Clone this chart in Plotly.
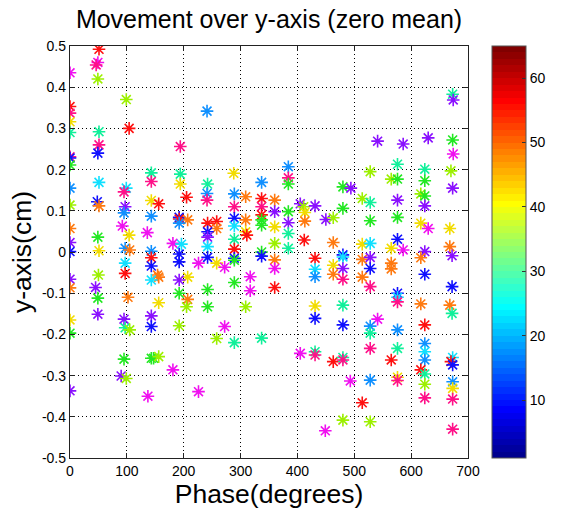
import plotly.graph_objects as go

# ---------------- data ----------------
# phase (degrees) per point, grouped by column
phase_deg = (
    [0] * 18
    + [51, 49, 46, 49, 51, 51, 49, 51, 48, 51, 49, 51, 50, 45, 49, 49]
    + [99, 104, 99, 95, 97, 95, 92, 104, 97, 105, 97, 97, 102, 95, 97, 105, 95, 90, 99]
    + [143, 143, 143, 156, 143, 136, 143, 143, 143, 156, 154, 143, 156, 143, 143, 143, 147, 156, 137]
    + [194, 194, 194, 205, 192, 192, 207, 192, 181, 196, 192, 192, 207, 192, 192, 207, 205, 192, 181]
    + [241, 242, 241, 241, 242, 258, 258, 242, 242, 242, 242, 226, 258, 272, 242, 242, 272, 258, 226]
    + [288, 289, 309, 289, 289, 309, 289, 309, 311, 289, 289, 289, 289, 317, 289, 317, 309, 289]
    + [337, 337, 360, 337, 360, 337, 337, 337, 360, 360, 337, 337, 360, 360, 360, 337]
    + [384] * 7
    + [405, 411, 431, 413, 413, 450, 463, 412, 463, 431, 431, 431, 463, 463, 431, 431, 405, 431, 431, 463, 449]
    + [480, 494, 480, 480, 480, 480, 480, 480, 480, 480, 480, 493, 480]
    + [541, 528, 514, 528, 528, 514, 528, 514, 528, 528, 514, 528, 541, 528, 528, 528, 528, 514, 528]
    + [586, 576, 565, 576, 576, 576, 576, 565, 586, 565, 565, 576, 576, 576, 576, 576, 565, 576, 576]
    + [630, 624, 624, 617, 624, 624, 617, 630, 624, 617, 624, 617, 624, 624, 624, 624, 617, 624, 624, 624]
    + [673, 674, 673, 674, 670, 673, 668, 668, 672, 672, 668, 672, 673, 670, 673, 673, 673, 673, 673]
)

# y displacement (cm), same order
y_cm = (
    [0.435, 0.353, 0.337, 0.316, 0.29, 0.231, 0.228, 0.211, 0.155, 0.114, 0.057, 0.023, 0.001, -0.066, -0.087, -0.165, -0.197, -0.337]
    + [0.492, 0.46, 0.454, 0.42, 0.292, 0.26, 0.24, 0.169, 0.122, 0.112, 0.036, 0.003, -0.056, -0.086, -0.112, -0.151]
    + [0.37, 0.30, 0.155, 0.146, 0.11, 0.095, 0.063, 0.041, 0.009, 0.005, -0.027, -0.052, -0.11, -0.163, -0.184, -0.189, -0.26, -0.301, -0.307]
    + [0.192, 0.171, 0.125, 0.117, 0.087, 0.047, 0.002, -0.014, -0.034, -0.061, -0.056, -0.068, -0.123, -0.155, -0.181, -0.258, -0.258, -0.254, -0.35]
    + [0.256, 0.189, 0.165, 0.133, 0.084, 0.08, 0.078, 0.07, 0.021, 0.019, -0.005, -0.024, -0.061, -0.068, -0.1, -0.115, -0.133, -0.179, -0.286]
    + [0.342, 0.165, 0.142, 0.126, 0.07, 0.074, 0.057, 0.049, 0.036, 0.013, -0.013, -0.027, -0.027, -0.037, -0.091, -0.133, -0.181, -0.21, -0.339]
    + [0.191, 0.141, 0.134, 0.11, 0.082, 0.078, 0.063, 0.049, 0.041, 0.031, 0.007, -0.015, -0.02, -0.06, -0.074, -0.094, -0.133, -0.22]
    + [0.169, 0.13, 0.126, 0.11, 0.098, 0.09, 0.078, 0.065, 0.061, 0.021, 0.0, -0.01, -0.019, -0.04, -0.086, -0.209]
    + [0.207, 0.18, 0.165, 0.098, 0.071, 0.045, 0.009]
    + [0.117, 0.11, 0.112, 0.096, 0.075, 0.079, 0.083, 0.029, 0.023, -0.015, -0.042, -0.06, -0.032, -0.054, -0.131, -0.161, -0.246, -0.242, -0.25, -0.266, -0.434]
    + [0.158, 0.155, 0.106, -0.007, -0.012, -0.04, -0.066, -0.129, -0.177, -0.256, -0.262, -0.313, -0.408]
    + [0.269, 0.195, 0.13, 0.12, 0.076, 0.019, 0.021, -0.018, -0.013, -0.04, -0.061, -0.084, -0.163, -0.18, -0.197, -0.234, -0.311, -0.366, -0.412]
    + [0.262, 0.213, 0.177, 0.177, 0.126, 0.084, 0.031, 0.009, 0.005, -0.027, -0.041, -0.1, -0.11, -0.121, -0.189, -0.234, -0.262, -0.304, -0.312]
    + [0.277, 0.201, 0.173, 0.141, 0.136, 0.112, 0.07, 0.057, 0.001, -0.014, -0.054, -0.126, -0.177, -0.222, -0.242, -0.262, -0.286, -0.296, -0.321, -0.354]
    + [0.383, 0.369, 0.272, 0.238, 0.197, 0.155, 0.057, 0.013, -0.009, -0.084, -0.129, -0.149, -0.256, -0.266, -0.274, -0.315, -0.331, -0.357, -0.43]
)

# hue key per point, same order
hue = (
    "MRPYSPBGACOVBVOYGV"
    + "RMPCSPBKBOGYCVGV"
    + "CRKPVAMYAOKROVSCGVC"
    + "SPYRAMARBOOKYVBGGCM"
    + "PSYRBROAMKBBYVGOCCM"
    + "ASAPRROBVKBMYMGGMCM"
    + "YAOPBOKYRSRBGMGMCS"
    + "AROPVRGGYCGBOMRS"
    + "APGGVSS"
    + "VCVYOVCRORKAYOYBMSPRM"
    + "GVGBKVPSBSPMC"
    + "VCCSGYKOVBOPMASPARC"
    + "VSCGVGBYMOOBKPASRYP"
    + "VSGCGVYMVOBORAKARSCP"
    + "SVGMCVYOVBOSKRBAYPP"
)

x_ticks = [0, 100, 200, 300, 400, 500, 600, 700]
y_ticks = [-0.5, -0.4, -0.3, -0.2, -0.1, 0, 0.1, 0.2, 0.3, 0.4, 0.5]
y_ticktext = ["-0.5", "-0.4", "-0.3", "-0.2", "-0.1", "0", "0.1", "0.2", "0.3", "0.4", "0.5"]
cbar_ticks = [10, 20, 30, 40, 50, 60]
cbar_range = [1, 65]

# ---------------- styling ----------------
palette = {
    "R": "#ff1010", "O": "#ff7a10", "Y": "#f2dc00", "C": "#9cf000",
    "G": "#22e822", "S": "#10f09a", "K": "#10e0ff", "A": "#1090ff",
    "B": "#1010ff", "V": "#8a10ff", "M": "#f010f0", "P": "#ff1088",
}
assert len(phase_deg) == len(y_cm) == len(hue)
colors = [palette[h] for h in hue]


def jet_scale(m=64):
    n = -(-m // 4)
    u = [i / n for i in range(1, n + 1)] + [1.0] * (n - 1) + [i / n for i in range(n, 0, -1)]
    g0 = -(-n // 2) - (1 if m % 4 == 1 else 0)
    rgb = [[0.0, 0.0, 0.0] for _ in range(m)]
    for k, uk in enumerate(u):
        g = g0 + k + 1
        r = g + n
        b = g - n
        if 1 <= r <= m:
            rgb[r - 1][0] = uk
        if 1 <= g <= m:
            rgb[g - 1][1] = uk
        if 1 <= b <= m:
            rgb[b - 1][2] = uk
    scale = []
    for i, (r, g, b) in enumerate(rgb):
        c = "rgb(%d,%d,%d)" % (round(r * 255), round(g * 255), round(b * 255))
        scale.append([i / m, c])
        scale.append([(i + 1) / m, c])
    return scale


FONT = "Liberation Sans, Arial, sans-serif"

fig = go.Figure()
fig.add_trace(go.Scatter(
    x=phase_deg, y=y_cm, mode="markers",
    marker=dict(symbol="asterisk-open", size=10.5, color=colors,
                line=dict(width=1.6)),
    showlegend=False, hoverinfo="x+y",
))
fig.add_trace(go.Scatter(
    x=[None], y=[None], mode="markers",
    marker=dict(color=[cbar_range[0]], colorscale=jet_scale(64),
                cmin=cbar_range[0], cmax=cbar_range[1], showscale=True,
                colorbar=dict(
                    x=(507 - 70) / 412, xanchor="left", xref="paper",
                    y=0.5, yanchor="middle", len=1.0, lenmode="fraction",
                    thickness=34, thicknessmode="pixels",
                    xpad=0, ypad=0,
                    outlinecolor="#555555", outlinewidth=1,
                    tickvals=cbar_ticks, ticks="inside", ticklen=4,
                    tickcolor="#333333",
                    tickfont=dict(family=FONT, size=14, color="black"),
                )),
    showlegend=False, hoverinfo="skip",
))

axis_common = dict(
    showgrid=True, griddash="1px,3px", gridcolor="black", gridwidth=1,
    showline=True, linecolor="#222222", linewidth=1.3, mirror="ticks",
    ticks="inside", ticklen=5, tickcolor="#222222", zeroline=False,
    tickfont=dict(family=FONT, size=14, color="black"),
)

fig.update_layout(
    width=563, height=513,
    margin=dict(l=70, r=81, t=46, b=55),
    paper_bgcolor="white", plot_bgcolor="white",
    title=dict(text="Movement over y-axis (zero mean)", x=0.5, xref="paper",
               xanchor="center", y=1 - 19 / 513, yref="container", yanchor="middle",
               font=dict(family=FONT, size=25, color="black")),
    xaxis=dict(range=[0, 700], tickvals=x_ticks,
               title=dict(text="Phase(degrees)", standoff=3,
                          font=dict(family=FONT, size=26.5, color="black")),
               **axis_common),
    yaxis=dict(range=[-0.5, 0.5], tickvals=y_ticks, ticktext=y_ticktext,
               title=dict(text="y-axis(cm)", standoff=2,
                          font=dict(family=FONT, size=26.5, color="black")),
               **axis_common),
)

fig.write_html("out.html")
